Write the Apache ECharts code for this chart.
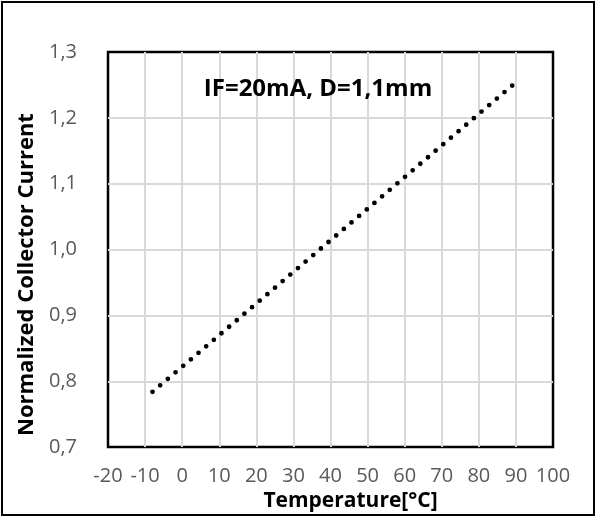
<!DOCTYPE html>
<html>
<head>
<meta charset="utf-8">
<script src="https://cdn.jsdelivr.net/npm/echarts@6/dist/echarts.min.js"></script>
<style>
html,body{margin:0;padding:0;background:#fff;}
#chart{width:596px;height:517px;}
</style>
</head>
<body>
<div id="chart"></div>
<script>
// Data
var temperatures = [-8, 0, 10, 20, 30, 40, 50, 60, 70, 80, 89];
var currents = [0.784, 0.822, 0.870, 0.918, 0.966, 1.014, 1.062, 1.110, 1.158, 1.206, 1.249];
var xTitle = 'Temperature[°C]';
var yTitle = 'Normalized Collector Current';
var annotation = 'IF=20mA, D=1,1mm';

var points = temperatures.map(function (t, i) { return [t, currents[i]]; });

var chart = echarts.init(document.getElementById('chart'), null, {renderer: 'canvas'});
var tickFont = {fontFamily: 'Open Sans', fontSize: 20, color: '#595959'};
chart.setOption({
  animation: false,
  backgroundColor: '#ffffff',
  grid: {left: 108, right: 43, top: 52, bottom: 69, show: true, borderColor: '#000', borderWidth: 2.5, backgroundColor: 'transparent'},
  xAxis: {
    type: 'value', min: -20, max: 100, interval: 10,
    name: xTitle, nameLocation: 'middle', nameGap: 43,
    nameTextStyle: {fontFamily: 'Open Sans', fontSize: 21, fontWeight: 'bold', color: '#000', padding: [0, 0, 0, 40]},
    axisLine: {show: false}, axisTick: {show: false},
    axisLabel: Object.assign({margin: 19}, tickFont),
    splitLine: {show: true, showMinLine: false, showMaxLine: false, lineStyle: {color: '#d9d9d9', width: 2}}
  },
  yAxis: {
    type: 'value', min: 0.7, max: 1.3, interval: 0.1,
    name: yTitle, nameLocation: 'middle', nameGap: 66,
    nameTextStyle: {fontFamily: 'Open Sans', fontSize: 22, fontWeight: 'bold', color: '#000', padding: [0, 50, 0, 0]},
    axisLine: {show: false}, axisTick: {show: false},
    axisLabel: Object.assign({margin: 31, formatter: function (v) { return v.toFixed(1).replace('.', ','); }}, tickFont),
    splitLine: {show: true, showMinLine: false, showMaxLine: false, lineStyle: {color: '#d9d9d9', width: 2}}
  },
  series: [{
    type: 'line', data: points, symbol: 'none', smooth: false, z: 5,
    lineStyle: {color: '#000', width: 4.8, type: [0, 10.05], cap: 'round'}
  }],
  graphic: [
    {type: 'rect', z: 100, shape: {x: 2, y: 2, width: 592, height: 513}, style: {fill: 'none', stroke: '#000', lineWidth: 2}, silent: true},
    {type: 'text', z: 100, x: 318, y: 89, style: {text: annotation, fontFamily: 'Open Sans', fontSize: 24, fontWeight: 'bold', fill: '#000', align: 'center', verticalAlign: 'middle'}}
  ]
});
</script>
</body>
</html>
